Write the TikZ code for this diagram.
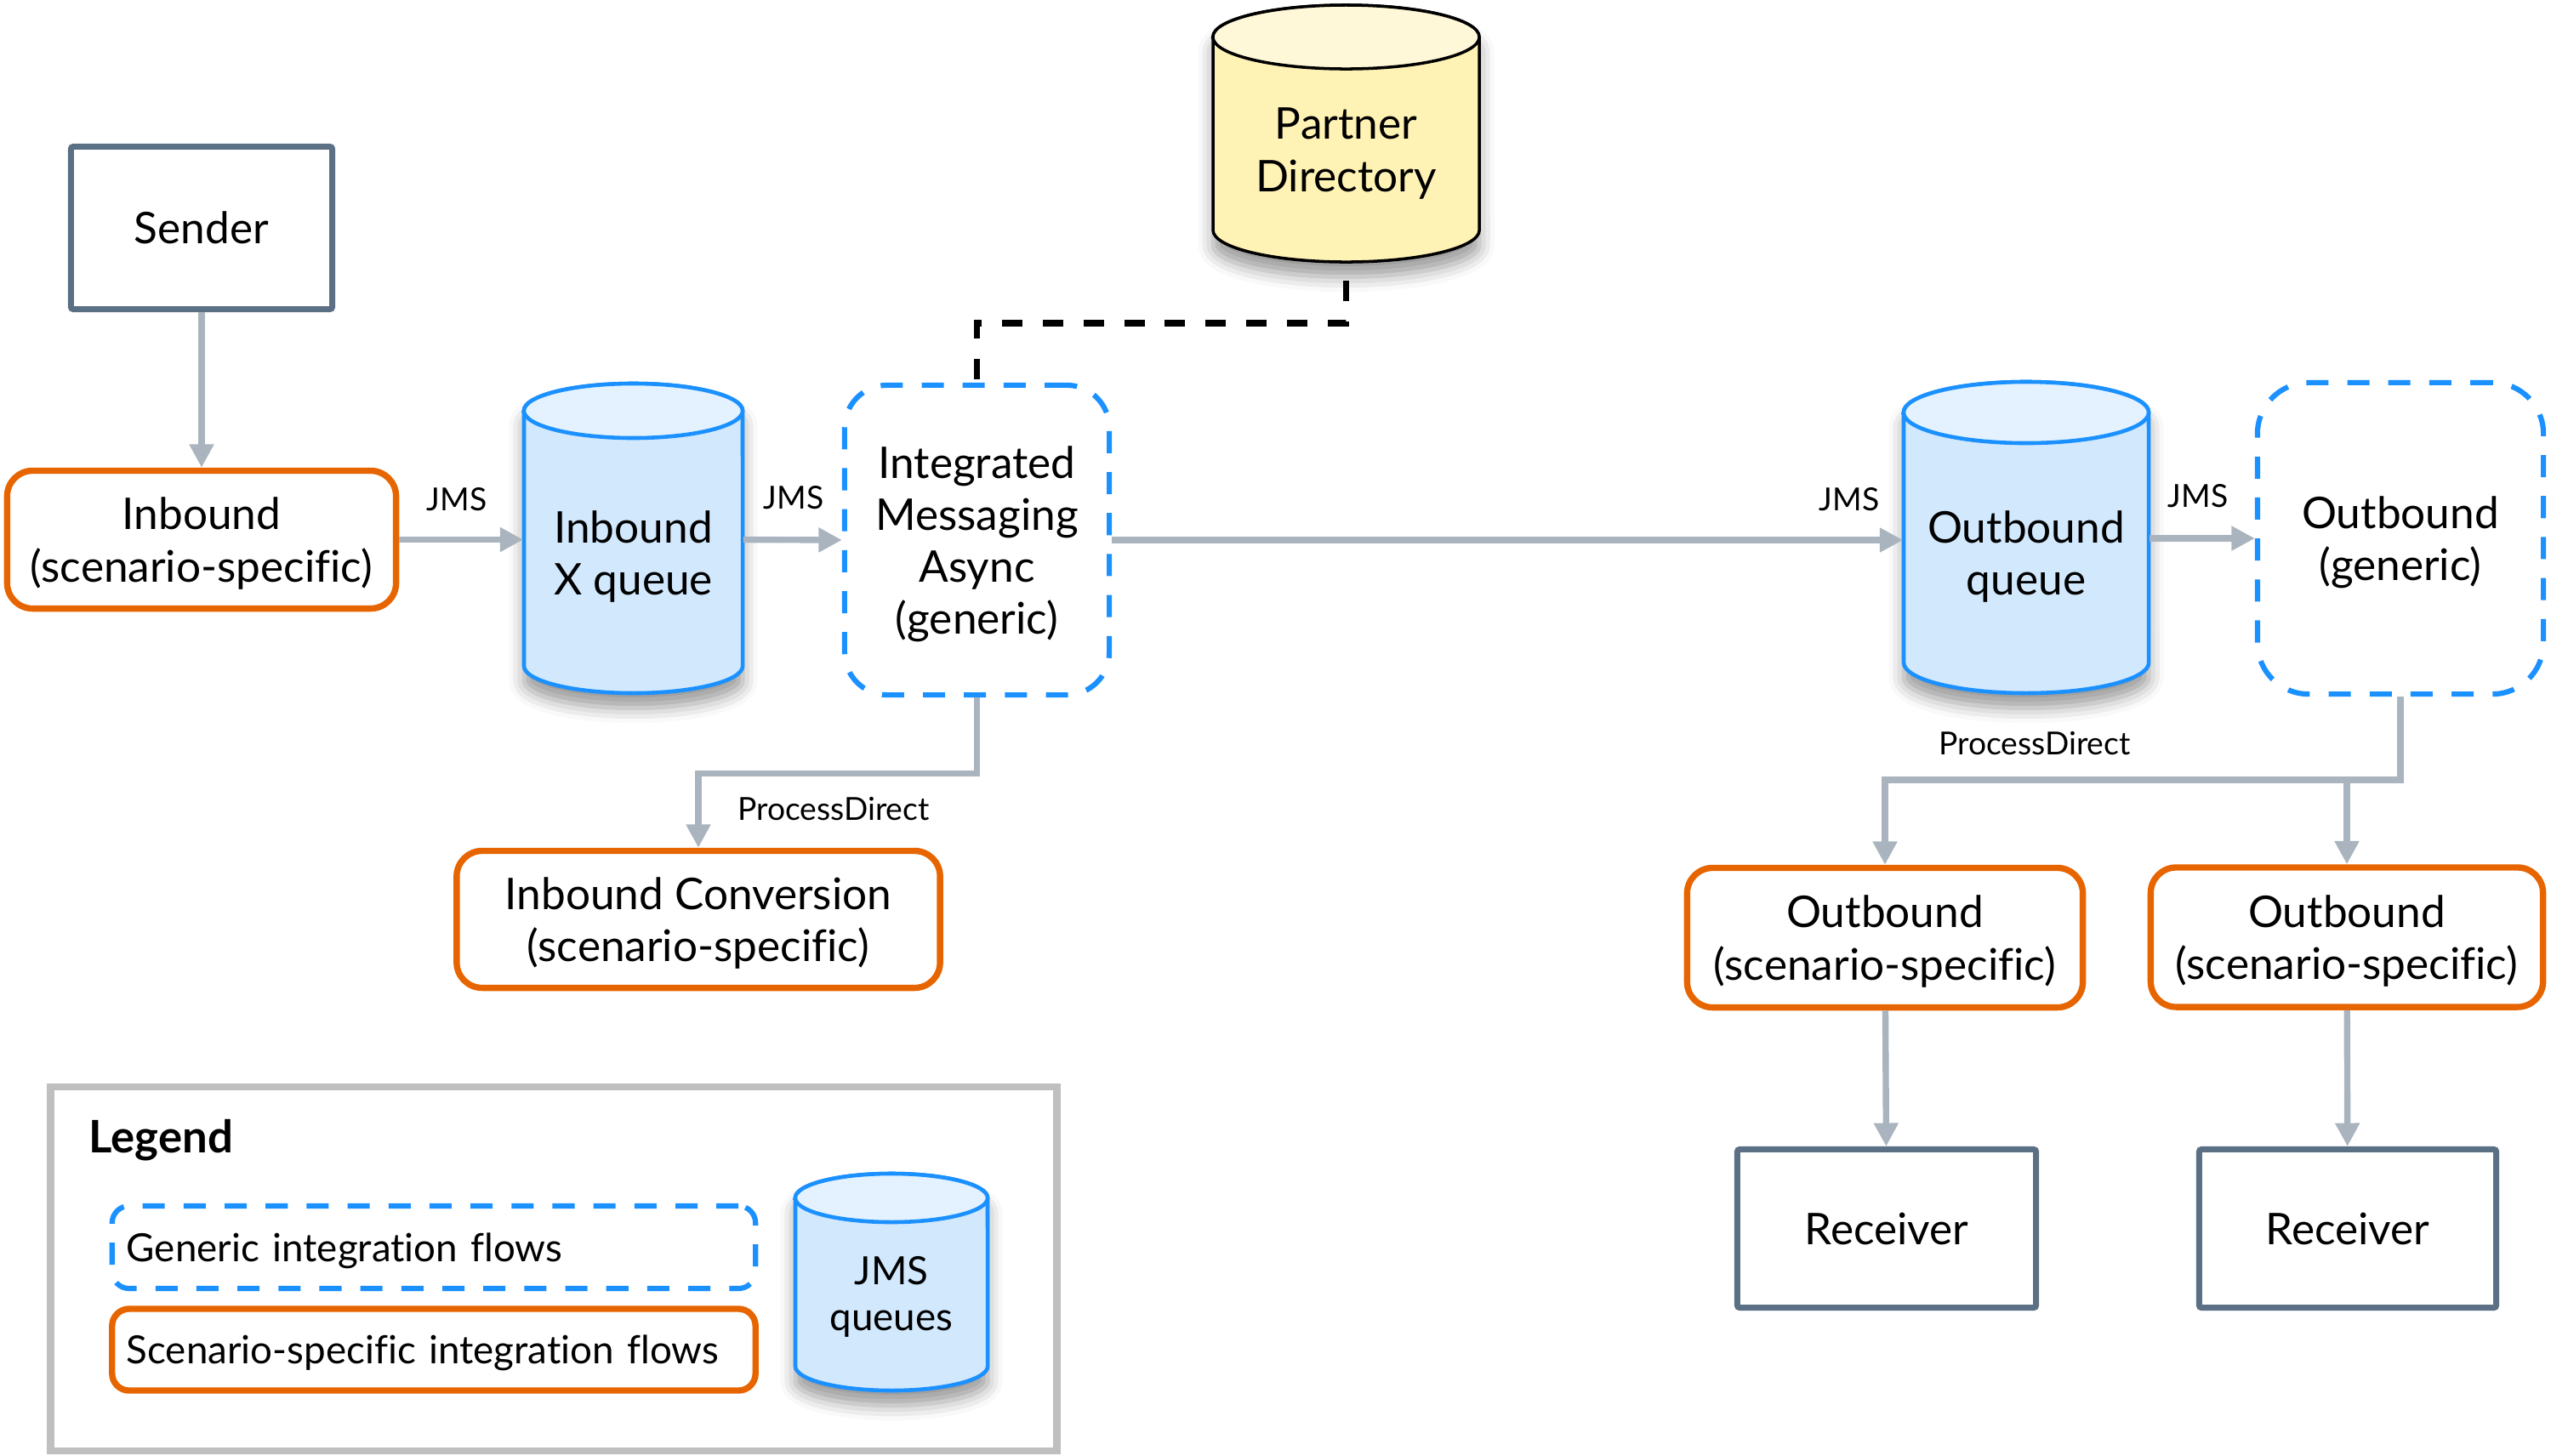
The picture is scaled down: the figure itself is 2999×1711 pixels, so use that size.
\documentclass[tikz,border=0pt]{standalone}
\usepackage{fontspec}
\setmainfont{Lato}[Ligatures=NoCommon]
\usetikzlibrary{arrows.meta,shadows.blur,calc}
\definecolor{sorange}{HTML}{E76500}
\definecolor{sblue}{HTML}{1B90FF}
\definecolor{sgray}{HTML}{A9B4BE}
\definecolor{sslate}{HTML}{5B7085}
\definecolor{qfill}{HTML}{D1E8FD}
\definecolor{qtopc}{HTML}{E3F2FE}
\definecolor{pfill}{HTML}{FFF2B5}
\definecolor{ptopc}{HTML}{FFF8D8}
\definecolor{lgray}{HTML}{BFBFBF}
\begin{document}
\begin{tikzpicture}[x=0.01cm,y=0.01cm,
  every node/.style={font=\fontsize{14.6}{17.4}\selectfont, align=center, inner sep=0pt, text depth=0pt},
  ssbox/.style={draw=sorange, line width=2.1pt, rounded corners=0.3cm, fill=white},
  genbox/.style={draw=sblue, line width=1.75pt, dash pattern=on 7.4pt off 6.3pt, rounded corners=0.5cm},
  endpt/.style={draw=sslate, line width=2pt, rounded corners=0.8pt},
  conn/.style={draw=sgray, line width=2.1pt},
  arr/.style={conn, -{Triangle[length=7.8pt,width=7.8pt]}},
  lbl/.style={font=\fontsize{10.6}{12.5}\selectfont},
  legtxt/.style={font=\fontsize{13}{15.5}\selectfont},
  cylshadow/.style={blur shadow={shadow xshift=0pt, shadow yshift=-5pt, shadow opacity=40, shadow blur radius=5pt}},
  qbody/.style={draw=sblue, line width=1.3pt, fill=qfill, cylshadow},
  qtop/.style={draw=sblue, line width=1.3pt, fill=qtopc},
  pbody/.style={draw=black, line width=1pt, fill=pfill, cylshadow},
  ptop/.style={draw=black, line width=1pt, fill=ptopc},
  pdline/.style={draw=black, line width=2.2pt, dash pattern=on 6.8pt off 6.8pt},
  legbox/.style={draw=lgray, line width=2.4pt}
]
\useasboundingbox (0,0) rectangle (2999,-1711);

% ---------- cylinders ----------
% Partner Directory
\draw[pbody] (1426,-43.5) -- (1426,-270.5) arc[start angle=180, end angle=360, x radius=1.565cm, y radius=0.375cm] -- (1739,-43.5) arc[start angle=0, end angle=180, x radius=1.565cm, y radius=0.375cm] -- cycle;
\draw[ptop] (1582.5,-43.5) ellipse[x radius=1.565cm, y radius=0.375cm];
% Inbound X queue
\draw[qbody] (616,-483) -- (616,-783) arc[start angle=180, end angle=360, x radius=1.285cm, y radius=0.32cm] -- (873,-483) arc[start angle=0, end angle=180, x radius=1.285cm, y radius=0.32cm] -- cycle;
\draw[qtop] (744.5,-483) ellipse[x radius=1.285cm, y radius=0.32cm];
% Outbound queue
\draw[qbody] (2238,-485) -- (2238,-779) arc[start angle=180, end angle=360, x radius=1.44cm, y radius=0.36cm] -- (2526,-485) arc[start angle=0, end angle=180, x radius=1.44cm, y radius=0.36cm] -- cycle;
\draw[qtop] (2382,-485) ellipse[x radius=1.44cm, y radius=0.36cm];
% Legend JMS queues
\draw[qbody] (935,-1408.5) -- (935,-1606.5) arc[start angle=180, end angle=360, x radius=1.13cm, y radius=0.285cm] -- (1161,-1408.5) arc[start angle=0, end angle=180, x radius=1.13cm, y radius=0.285cm] -- cycle;
\draw[qtop] (1048,-1408.5) ellipse[x radius=1.13cm, y radius=0.285cm];

% ---------- nodes ----------
\node[endpt, minimum width=3.07cm, minimum height=1.91cm] (snd) at (237,-268) {Sender};
\node[ssbox, minimum width=4.57cm, minimum height=1.62cm] (inb) at (237,-634.5) {Inbound\\(scenario-specific)};
\node[minimum width=2.57cm] (xq) at (744.5,-650) {Inbound\\X queue};
\node[genbox, minimum width=3.11cm, minimum height=3.64cm] (ima) at (1148.5,-635) {Integrated\\Messaging\\Async\\(generic)};
\node[minimum width=3.13cm] (pd) at (1582.5,-176) {Partner\\Directory};
\node[minimum width=2.88cm] (oq) at (2382,-650) {Outbound\\queue};
\node[genbox, rounded corners=0.6cm, minimum width=3.36cm, minimum height=3.66cm] (og) at (2822,-633) {Outbound\\(generic)};
\node[ssbox, minimum width=5.68cm, minimum height=1.61cm] (ic) at (821,-1081) {Inbound Conversion\\(scenario-specific)};
\node[ssbox, minimum width=4.65cm, minimum height=1.64cm] (ob1) at (2216,-1102.5) {Outbound\\(scenario-specific)};
\node[ssbox, minimum width=4.61cm, minimum height=1.64cm] (ob2) at (2759,-1102) {Outbound\\(scenario-specific)};
\node[endpt, minimum width=3.51cm, minimum height=1.86cm] (rc1) at (2218,-1444.5) {Receiver};
\node[endpt, minimum width=3.49cm, minimum height=1.86cm] (rc2) at (2760,-1444.5) {Receiver};

% labels
\node[lbl] (j1) at (537,-587) {JMS};
\node[lbl] (j2) at (933,-585) {JMS};
\node[lbl] (j3) at (2174,-587) {JMS};
\node[lbl] (j4) at (2584,-583) {JMS};
\node[lbl] (pdl1) at (980,-951) {ProcessDirect};
\node[lbl] (pdl2) at (2392,-874) {ProcessDirect};

% ---------- connectors ----------
\draw[arr] (snd) -- (inb);
\draw[arr] (inb.east) -- (inb.east -| xq.west);
\draw[arr] (inb.east -| xq.east) -- (ima.west);
\draw[arr] (ima.east) -- (ima.east -| oq.west);
\draw[arr] (og.west -| oq.east) -- (og.west);
\draw[arr] (ima.south) -- ++(0,-89) -| (ic.north);
\coordinate (obus) at (2822,-917);
\draw[arr] (og.south) -- (obus) -| (ob1.north);
\draw[arr] (obus -| ob2.north) -- (ob2.north);
\draw[arr] (ob1) -- (rc1);
\draw[arr] (ob2) -- (rc2);
\coordinate (pdb) at (1582.5,-330);
\draw[pdline] (pdb) -- ++(0,-50) -| (ima.north);

% ---------- legend ----------
\node[legbox, minimum width=11.82cm, minimum height=4.28cm] (lg) at (651,-1492) {};
\node[font=\fontsize{15}{18}\selectfont\bfseries, anchor=base west] (lgt) at (104,-1355) {Legend};
\node[genbox, rounded corners=0.2cm, minimum width=7.56cm, minimum height=0.97cm, text width=7.22cm, inner xsep=0.17cm, align=left, legtxt] (lgen) at (510,-1466.5) {Generic integration flows};
\node[ssbox, rounded corners=0.2cm, minimum width=7.56cm, minimum height=0.96cm, text width=7.22cm, inner xsep=0.17cm, align=left, legtxt] (lss) at (510,-1587) {Scenario-specific integration flows};
\node[legtxt, minimum width=2.26cm] (jq) at (1048,-1521) {JMS\\queues};
\end{tikzpicture}
\end{document}
